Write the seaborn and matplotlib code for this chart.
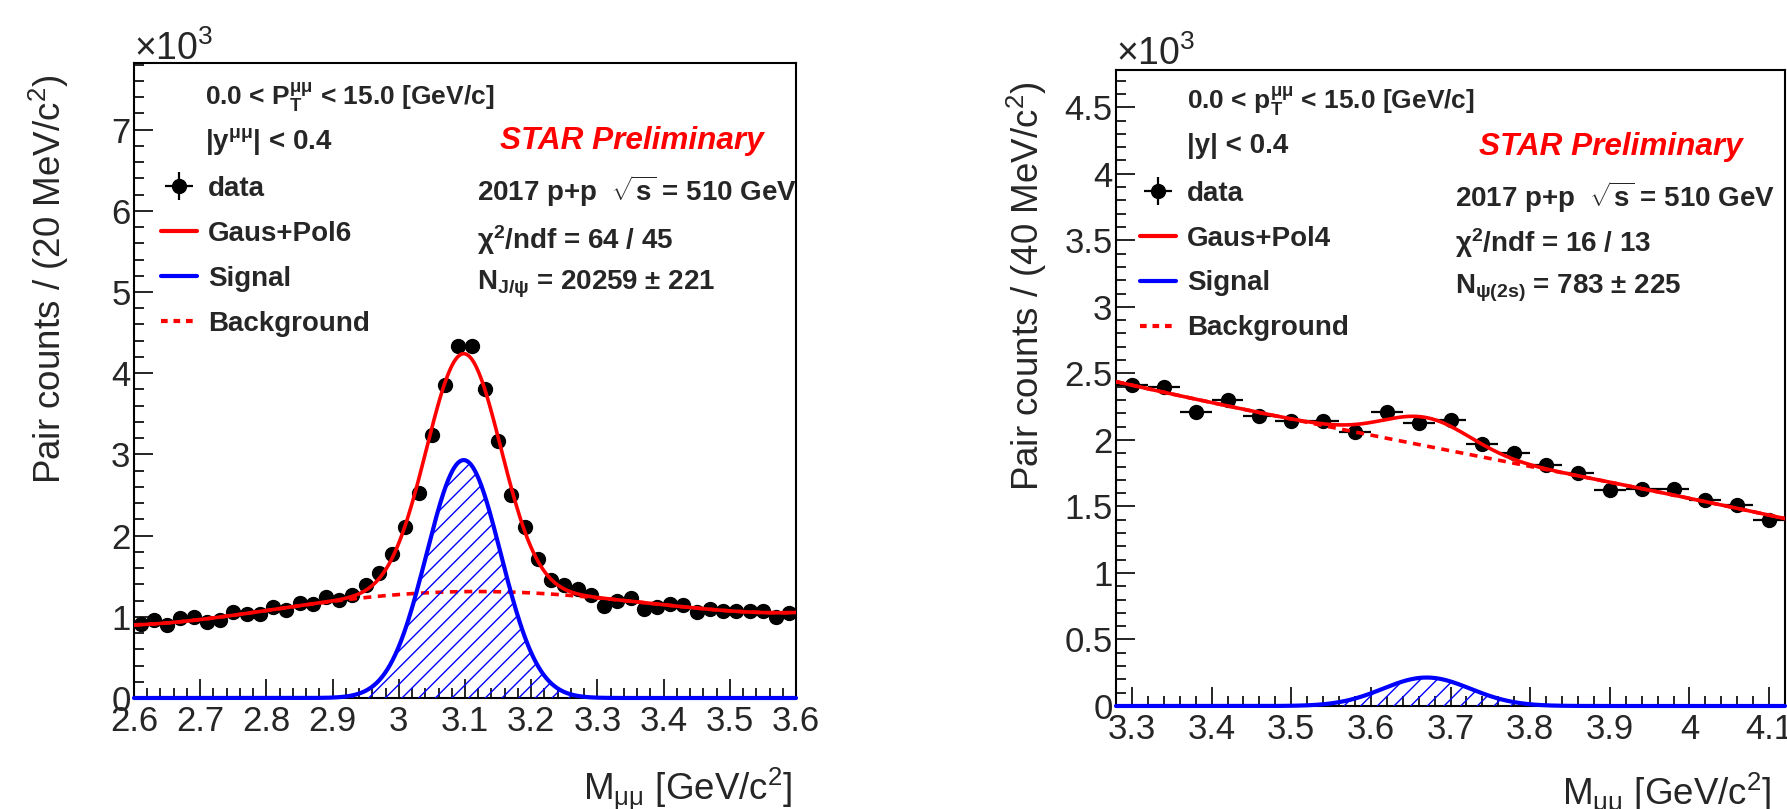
import numpy as np
import matplotlib
matplotlib.use("Agg")
import matplotlib.pyplot as plt
import seaborn as sns
from matplotlib.lines import Line2D
from matplotlib.ticker import MultipleLocator, FuncFormatter

# ---- J/psi panel: 20 MeV bins, counts in units of 10^3 ----
jpsi_mass = [2.61, 2.63, 2.65, 2.67, 2.69, 2.71, 2.73, 2.75, 2.77, 2.79,
             2.81, 2.83, 2.85, 2.87, 2.89, 2.91, 2.93, 2.95, 2.97, 2.99,
             3.01, 3.03, 3.05, 3.07, 3.09, 3.11, 3.13, 3.15, 3.17, 3.19,
             3.21, 3.23, 3.25, 3.27, 3.29, 3.31, 3.33, 3.35, 3.37, 3.39,
             3.41, 3.43, 3.45, 3.47, 3.49, 3.51, 3.53, 3.55, 3.57, 3.59]
jpsi_counts = [0.91, 0.96, 0.90, 0.98, 1.00, 0.93, 0.96, 1.06, 1.03, 1.04,
               1.12, 1.08, 1.17, 1.16, 1.24, 1.21, 1.27, 1.39, 1.54, 1.77,
               2.10, 2.52, 3.24, 3.85, 4.34, 4.34, 3.81, 3.17, 2.50, 2.10,
               1.71, 1.45, 1.39, 1.34, 1.27, 1.13, 1.19, 1.23, 1.09, 1.12,
               1.16, 1.14, 1.06, 1.10, 1.07, 1.07, 1.07, 1.07, 1.00, 1.05]
# background (Pol6)
jpsi_bg_x = [2.6, 2.7, 2.8, 2.9, 3.0, 3.1, 3.2, 3.3, 3.4, 3.5, 3.6]
jpsi_bg_y = [0.90, 0.97, 1.07, 1.19, 1.28, 1.31, 1.30, 1.22, 1.15, 1.08, 1.05]
# signal gaussian: amplitude (x10^3), mean, sigma
jpsi_sig = (2.93, 3.098, 0.056)

# ---- psi(2s) panel: 40 MeV bins ----
psi_mass = [3.30, 3.34, 3.38, 3.42, 3.46, 3.50, 3.54, 3.58, 3.62, 3.66, 3.70,
            3.74, 3.78, 3.82, 3.86, 3.90, 3.94, 3.98, 4.02, 4.06, 4.10]
psi_counts = [2.41, 2.40, 2.21, 2.30, 2.18, 2.14, 2.14, 2.06, 2.21, 2.13, 2.15,
              1.97, 1.90, 1.81, 1.75, 1.62, 1.63, 1.63, 1.55, 1.51, 1.40]
psi_bg_x = [3.3, 3.4, 3.5, 3.6, 3.7, 3.8, 3.9, 4.0, 4.1]
psi_bg_y = [2.41, 2.28, 2.16, 2.04, 1.91, 1.80, 1.68, 1.57, 1.43]
psi_sig = (0.214, 3.67, 0.055)

RED = "#ff0000"
BLUE = "#0000ff"
W, H = 1787, 809


def gaus(x, amp, mu, sigma):
    return amp * np.exp(-0.5 * ((x - mu) / sigma) ** 2)


def draw_panel(ax, mass, counts, half_bin, xlim, ylim, bg_x, bg_y, bg_deg, sig,
               ymaj, ymin_step, ylabel, texts, legend_anchor, fit_name,
               exp_y, ylab_x, xlab_x, xlab_y):
    mass = np.asarray(mass)
    counts = np.asarray(counts)
    err = np.sqrt(counts * 1000.0) / 1000.0

    xs = np.linspace(xlim[0], xlim[1], 500)
    coef = np.polyfit(bg_x, bg_y, bg_deg)
    bg = np.polyval(coef, xs)
    signal = gaus(xs, *sig)
    total = bg + signal

    data = ax.errorbar(mass, counts, yerr=err, xerr=half_bin, fmt="o", color="black",
                       ms=10, elinewidth=1.6, capsize=0, zorder=3)
    sns.lineplot(x=xs, y=bg, ax=ax, color=RED, lw=2.6, linestyle=(0, (2.2, 1.8)), zorder=4)
    ax.fill_between(xs, 0, signal, facecolor="none", edgecolor=BLUE, hatch="//",
                    lw=0, zorder=4)
    sl = sns.lineplot(x=xs, y=signal, ax=ax, color=BLUE, lw=3.0, zorder=5)
    sl.lines[-1].set_clip_on(False)
    sns.lineplot(x=xs, y=total, ax=ax, color=RED, lw=2.6, zorder=6)

    ax.set_xlim(*xlim)
    ax.set_ylim(*ylim)
    ax.xaxis.set_major_locator(MultipleLocator(0.1))
    ax.xaxis.set_minor_locator(MultipleLocator(0.02))
    ax.yaxis.set_major_locator(MultipleLocator(ymaj))
    ax.yaxis.set_minor_locator(MultipleLocator(ymin_step))
    fmt = FuncFormatter(lambda v, p: f"{v:g}")
    ax.xaxis.set_major_formatter(fmt)
    ax.yaxis.set_major_formatter(fmt)
    ax.tick_params(which="both", direction="in", top=False, right=False,
                   width=1.2, color="black", labelsize=25)
    ax.tick_params(which="major", length=14)
    ax.tick_params(which="minor", length=7)
    ax.tick_params(axis="x", pad=5)
    ax.tick_params(axis="y", pad=2.5)
    for s in ax.spines.values():
        s.set_linewidth(1.5)
        s.set_color("black")
        s.set_visible(True)

    ax.set_ylabel(ylabel, fontsize=26.5, loc="top")
    ax.yaxis.set_label_coords(ylab_x, 0.982)
    ax.set_xlabel(r"$M_{\mu\mu}$ [GeV/c$^{2}$]", fontsize=26.5, loc="right")
    ax.xaxis.set_label_coords(xlab_x, xlab_y)

    ax.text(0.0, exp_y, r"$\times$10$^{3}$", transform=ax.transAxes,
            fontsize=27, ha="left", va="baseline")

    for x, y, s, kw in texts:
        base = dict(transform=ax.transAxes, fontsize=20, fontweight="bold", va="center")
        base.update(kw)
        ax.text(x, y, s, **base)

    handles = [data,
               Line2D([], [], color=RED, lw=3),
               Line2D([], [], color=BLUE, lw=3),
               Line2D([], [], color=RED, lw=3, linestyle=(0, (1.6, 1.4)))]
    labels = ["data", fit_name, "Signal", "Background"]
    ax.legend(handles, labels, loc="upper left", bbox_to_anchor=legend_anchor,
              frameon=False, prop=dict(family="Liberation Sans", weight="bold", size=20),
              handlelength=1.3, handletextpad=0.4, labelspacing=0.68,
              borderpad=0, borderaxespad=0)


sns.set_theme(style="ticks")
plt.rcParams["font.family"] = ["Liberation Sans", "DejaVu Sans"]
plt.rcParams["mathtext.fontset"] = "custom"
plt.rcParams["mathtext.default"] = "regular"
plt.rcParams["hatch.linewidth"] = 1.0

fig = plt.figure(figsize=(W / 100, H / 100), dpi=100)
ax1 = fig.add_axes([134 / W, (H - 698) / H, 662 / W, 635 / H])
ax2 = fig.add_axes([1116 / W, (H - 706) / H, 669 / W, 636 / H])

star = dict(color=RED, fontstyle="italic", fontsize=22.7)
small = dict(fontsize=19)

left_texts = [
    (0.107, 0.946, r"0.0 < $P_{T}^{\mu\mu}$ < 15.0 [GeV/c]", small),
    (0.107, 0.876, r"|$y^{\mu\mu}$| < 0.4", {}),
    (0.553, 0.877, "STAR Preliminary", star),
    (0.518, 0.798, r"2017 p+p  $\sqrt{s}$ = 510 GeV", {}),
    (0.518, 0.721, r"$\chi^{2}$/ndf = 64 / 45", {}),
    (0.518, 0.652, r"$N_{J/\psi}$ = 20259 $\pm$ 221", {}),
]
right_texts = [
    (0.106, 0.951, r"0.0 < $p_{T}^{\mu\mu}$ < 15.0 [GeV/c]", small),
    (0.106, 0.881, "|y| < 0.4", {}),
    (0.543, 0.879, "STAR Preliminary", star),
    (0.507, 0.800, r"2017 p+p  $\sqrt{s}$ = 510 GeV", {}),
    (0.507, 0.728, r"$\chi^{2}$/ndf = 16 / 13", {}),
    (0.507, 0.657, r"$N_{\psi(2s)}$ = 783 $\pm$ 225", {}),
]

draw_panel(ax1, jpsi_mass, jpsi_counts, 0.01, (2.6, 3.6), (0, 7.82),
           jpsi_bg_x, jpsi_bg_y, 4, jpsi_sig, 1, 0.2,
           "Pair counts / (20 MeV/c$^{2}$)", left_texts, (0.041, 0.822), "Gaus+Pol6",
           1.005, -0.095, 0.995, -0.106)
draw_panel(ax2, psi_mass, psi_counts, 0.02, (3.28, 4.12), (0, 4.78),
           psi_bg_x, psi_bg_y, 3, psi_sig, 0.5, 0.1,
           "Pair counts / (40 MeV/c$^{2}$)", right_texts, (0.036, 0.826), "Gaus+Pol4",
           1.008, -0.100, 0.979, -0.102)

fig.savefig("out.png", dpi=100, facecolor="white")
